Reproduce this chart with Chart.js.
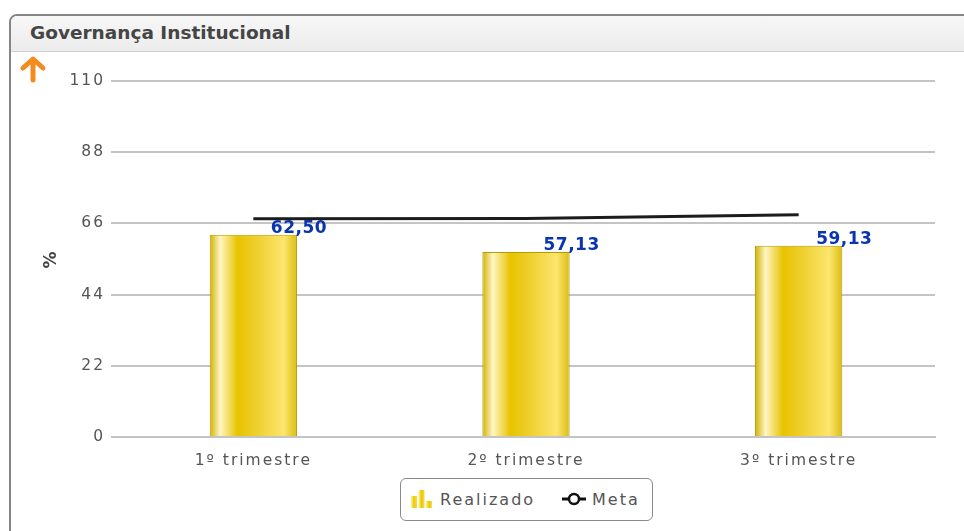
<!DOCTYPE html>
<html>
<head>
<meta charset="utf-8">
<script src="https://cdn.jsdelivr.net/npm/chart.js@4"></script>
<style>
  html, body { margin: 0; padding: 0; background: #fff; width: 964px; height: 531px; overflow: hidden; font-family: "DejaVu Sans", Verdana, sans-serif; }
  .panel { position: absolute; left: 9px; top: 14px; width: 1000px; height: 600px; border: 2px solid #858585; border-radius: 8px 0 0 0; box-sizing: border-box; }
  .head { position: absolute; left: 0; top: 0; right: 0; height: 35px; background: linear-gradient(#f7f7f7, #ececec); border-bottom: 1px solid #cfcfcf; border-radius: 6px 0 0 0; }
  .head span { position: absolute; left: 19px; top: 6px; font-weight: bold; font-size: 18.5px; color: #454545; }
  .arrow { position: absolute; left: 19px; top: 55px; }
  .chartbox { position: absolute; left: 10px; top: 52px; width: 954px; height: 425px; }
  .legend { position: absolute; left: 400px; top: 478px; width: 253px; height: 43px; border: 1px solid #8a8a8a; border-radius: 6px; box-sizing: border-box; font-size: 16px; letter-spacing: 2px; color: #555; }
  .legend .item { position: absolute; top: 11px; }
  .legend svg { position: absolute; }
</style>
</head>
<body>
<div class="panel"><div class="head"><span>Governança Institucional</span></div></div>
<svg class="arrow" width="28" height="28" viewBox="0 0 28 28">
  <polyline points="4,13 14,4 24,13" fill="none" stroke="#f28c1f" stroke-width="5" stroke-linecap="round" stroke-linejoin="round"/>
  <line x1="14" y1="5" x2="14" y2="25" stroke="#f28c1f" stroke-width="5" stroke-linecap="round"/>
</svg>
<div class="chartbox"><canvas id="chart"></canvas></div>
<div class="legend">
  <svg style="left:10px; top:11px" width="22" height="18" viewBox="0 0 22 18">
    <defs><linearGradient id="lg" x1="0" x2="1"><stop offset="0" stop-color="#fff3a0"/><stop offset="0.5" stop-color="#ecc800"/><stop offset="1" stop-color="#f7dc50"/></linearGradient></defs>
    <rect x="0" y="6" width="6" height="12" fill="url(#lg)"/>
    <rect x="7.5" y="0" width="6" height="18" fill="url(#lg)"/>
    <rect x="15" y="11" width="6" height="7" fill="url(#lg)"/>
  </svg>
  <span class="item" style="left:39px">Realizado</span>
  <svg style="left:161px; top:12px" width="24" height="16" viewBox="0 0 24 16">
    <line x1="0" y1="8" x2="24" y2="8" stroke="#111" stroke-width="3"/>
    <circle cx="12" cy="8" r="5" fill="#fff" stroke="#111" stroke-width="2.5"/>
  </svg>
  <span class="item" style="left:191px">Meta</span>
</div>
<script>
const categories = ['1º trimestre', '2º trimestre', '3º trimestre'];
const realizado = [62.50, 57.13, 59.13];
const meta = [67.4, 67.5, 68.7];
const yTicks = [0, 22, 44, 66, 88, 110];

function barGradient(context) {
  const chart = context.chart;
  const x = chart.scales && chart.scales.x;
  if (!chart.chartArea || !x) return '#e8c400';
  const cx = x.getPixelForValue(context.dataIndex);
  const w = (chart.chartArea.width / categories.length) * 0.32;
  const g = chart.ctx.createLinearGradient(cx - w / 2, 0, cx + w / 2, 0);
  g.addColorStop(0, '#d2b000');
  g.addColorStop(0.12, '#fff6c4');
  g.addColorStop(0.32, '#e8c300');
  g.addColorStop(0.55, '#efd030');
  g.addColorStop(0.85, '#fce66e');
  g.addColorStop(1, '#dcbc10');
  return g;
}

// letter spacing like the original renderer
const spacing = {
  id: 'spacing',
  beforeUpdate(chart) { chart.ctx.letterSpacing = '2px'; },
  beforeDraw(chart) { chart.ctx.letterSpacing = '2px'; }
};

// value labels at the top right corner of each bar
const valueLabels = {
  id: 'valueLabels',
  afterDatasetsDraw(chart) {
    const ctx = chart.ctx;
    const bars = chart.getDatasetMeta(1);
    ctx.save();
    ctx.letterSpacing = '0.5px';
    ctx.font = 'bold 17px "DejaVu Sans"';
    ctx.fillStyle = '#0a34b0';
    ctx.textAlign = 'center';
    ctx.textBaseline = 'bottom';
    bars.data.forEach((bar, i) => {
      ctx.fillText(realizado[i].toFixed(2).replace('.', ','), bar.x + bar.width / 2 + 2, bar.y + 2);
    });
    ctx.restore();
  }
};

new Chart(document.getElementById('chart'), {
  data: {
    labels: categories,
    datasets: [
      {
        type: 'line',
        label: 'Meta',
        data: meta,
        borderColor: '#1c1c1c',
        borderWidth: 3,
        pointRadius: 0,
        tension: 0,
        order: 0
      },
      {
        type: 'bar',
        label: 'Realizado',
        data: realizado,
        backgroundColor: barGradient,
        borderColor: '#b39c00',
        borderWidth: 1,
        barPercentage: 0.32,
        categoryPercentage: 1,
        order: 1
      }
    ]
  },
  options: {
    responsive: true,
    maintainAspectRatio: false,
    animation: false,
    layout: { padding: { left: 0, top: 29, right: 29, bottom: 0 } },
    plugins: {
      legend: { display: false },
      tooltip: { enabled: false }
    },
    scales: {
      x: {
        offset: true,
        grid: { display: false },
        border: { color: '#c4c4c4', width: 2 },
        ticks: { color: '#555', font: { family: 'DejaVu Sans', size: 15.5 }, padding: 7 },
        afterFit(scale) { scale.height = 40; }
      },
      y: {
        min: 0,
        max: 110,
        afterBuildTicks(scale) { scale.ticks = yTicks.map(v => ({ value: v })); },
        grid: { color: '#c4c4c4', lineWidth: 2, tickLength: 6, drawTicks: true },
        border: { display: false },
        ticks: { color: '#555', font: { family: 'DejaVu Sans', size: 15.5 }, padding: 6 },
        title: { display: true, text: '%', color: '#444', font: { family: 'DejaVu Sans', size: 17, weight: 'bold' }, padding: { top: 31 } },
        afterFit(scale) { scale.width = 107; }
      }
    }
  },
  plugins: [spacing, valueLabels]
});
</script>
</body>
</html>
